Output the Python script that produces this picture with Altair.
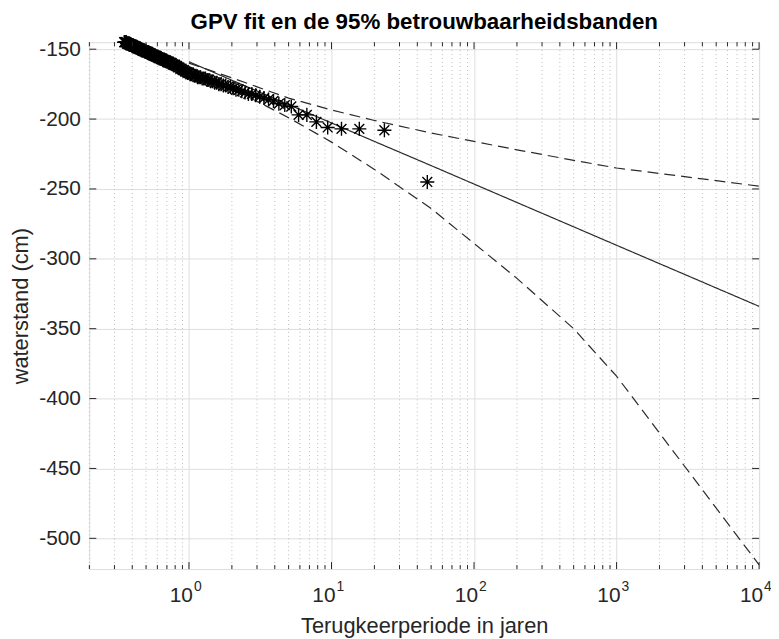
import altair as alt
import pandas as pd

title_text = "GPV fit en de 95% betrouwbaarheidsbanden"
x_title = "Terugkeerperiode in jaren"
y_title = "waterstand (cm)"

# observed points: return period (years) and water level (cm)
T_obs = [47, 23.5, 15.67, 11.75, 9.4, 7.833, 6.714, 5.875, 5.222, 4.7,
         4.273, 3.917, 3.615, 3.357, 3.133, 2.938, 2.765, 2.611, 2.474, 2.35,
         2.238, 2.136, 2.043, 1.958, 1.88, 1.808, 1.741, 1.679, 1.621, 1.567,
         1.516, 1.469, 1.424, 1.382, 1.343, 1.306, 1.270, 1.237, 1.205, 1.175,
         1.146, 1.119, 1.093, 1.068, 1.044, 1.022, 1.0, 0.979, 0.959, 0.94,
         0.922, 0.904, 0.887, 0.870, 0.855, 0.839, 0.825, 0.810, 0.797, 0.783,
         0.770, 0.758, 0.746, 0.734, 0.723, 0.712, 0.701, 0.691, 0.681, 0.671,
         0.662, 0.653, 0.644, 0.635, 0.627, 0.618, 0.610, 0.603, 0.595, 0.5875,
         0.580, 0.573, 0.566, 0.560, 0.553, 0.547, 0.540, 0.534, 0.528, 0.522,
         0.516, 0.511, 0.505, 0.5, 0.495, 0.490, 0.485, 0.480, 0.475, 0.47,
         0.465, 0.461, 0.456, 0.452, 0.448, 0.443, 0.439, 0.435, 0.431, 0.427,
         0.423, 0.420, 0.416, 0.412, 0.409, 0.405, 0.402, 0.398, 0.395, 0.392,
         0.388, 0.385, 0.382, 0.379, 0.376, 0.373, 0.370, 0.367, 0.364, 0.362,
         0.359, 0.356, 0.353, 0.351]
H_obs = [-245, -208, -207, -207, -206, -202, -197, -197, -191, -190,
         -189, -187, -186, -185, -184, -183, -182, -182, -181, -180,
         -179, -179, -178, -177, -177, -176, -176, -175, -175, -174,
         -174, -173, -173, -172, -172, -171, -171, -171, -170, -170,
         -170, -169, -169, -168, -168, -168, -167, -167, -166, -166,
         -165, -165, -164, -164, -163, -163, -162, -162, -161, -161,
         -161, -160, -160, -160, -159, -159, -159, -158, -158, -158,
         -158, -157, -157, -157, -156, -156, -156, -156, -155, -155,
         -155, -155, -154, -154, -154, -154, -153, -153, -153, -153,
         -152, -152, -152, -152, -152, -151, -151, -151, -151, -151,
         -150, -150, -150, -150, -150, -149, -149, -149, -149, -149,
         -148, -148, -148, -148, -148, -148, -147, -147, -147, -147,
         -147, -147, -146, -146, -146, -146, -146, -146, -145, -145,
         -145, -145, -145, -145]

# fitted return levels and 95% confidence band
T_fit = [1, 2, 5, 10, 20, 50, 100, 200, 500, 1000, 10000]
H_fit = [-159, -172.2, -189.6, -202.8, -216, -233.3, -246.5, -259.7, -277.1, -290.3, -334]
H_upper = [-160, -170.5, -185, -193.5, -201, -210, -216, -222, -229.5, -235, -248]
H_lower = [-163, -178, -199, -216.5, -236, -264, -289, -314, -350, -384, -519]

x_major = [1, 10, 100, 1000, 10000]
x_exponents = ["0", "1", "2", "3", "4"]
x_minor = [0.2, 0.3, 0.4, 0.5, 0.6, 0.7, 0.8, 0.9,
           2, 3, 4, 5, 6, 7, 8, 9,
           20, 30, 40, 50, 60, 70, 80, 90,
           200, 300, 400, 500, 600, 700, 800, 900,
           2000, 3000, 4000, 5000, 6000, 7000, 8000, 9000]
y_ticks = [-500, -450, -400, -350, -300, -250, -200, -150]

W, H = 675, 531
FONT = "Liberation Sans"
AX = "#262626"

xs = alt.Scale(type="log", domain=[0.2, 10000], nice=False)
ys = alt.Scale(domain=[-522, -145], nice=False, zero=False)

obs = pd.DataFrame({"T": T_obs, "H": H_obs})
fit_rows = []
for t, a, b, c in zip(T_fit, H_fit, H_upper, H_lower):
    fit_rows.append({"T": t, "H": a, "s": "fit"})
    fit_rows.append({"T": t, "H": b, "s": "upper"})
    fit_rows.append({"T": t, "H": c, "s": "lower"})
fit = pd.DataFrame(fit_rows)

minor_df = pd.DataFrame({"T": x_minor})
major_df = pd.DataFrame({"T": x_major, "e": x_exponents})
xt_df = pd.DataFrame({"T": x_minor})
yt_df = pd.DataFrame({"H": y_ticks})
title_df = pd.DataFrame({"t": [title_text]})

x_axis = alt.Axis(values=x_major, labels=False, grid=True,
                  gridColor="#dedede", gridWidth=1, ticks=False, domain=False,
                  title=x_title, titleFont=FONT, titleFontSize=22,
                  titleFontWeight="normal", titleColor=AX, titlePadding=47)
y_axis = alt.Axis(values=y_ticks, labelExpr="'' + datum.value", grid=True,
                  gridColor="#dedede", gridWidth=1,
                  ticks=False, domain=False, labelFont=FONT, labelFontSize=21,
                  labelColor=AX, labelPadding=9, title=y_title, titleFont=FONT,
                  titleFontSize=22, titleFontWeight="normal", titleColor=AX,
                  titlePadding=6)


def X(f="T"):
    return alt.X(f + ":Q", scale=xs, axis=x_axis)


def Y(f="H"):
    return alt.Y(f + ":Q", scale=ys, axis=y_axis)


minor_grid = alt.Chart(minor_df).mark_rule(color="#bdbdbd", strokeWidth=1,
                                           strokeDash=[1, 3]).encode(x=X())

lines = alt.Chart(fit).mark_line(color="#2a2a2a", strokeWidth=1.2).encode(
    x=X(), y=Y(), detail="s:N",
    strokeDash=alt.condition(alt.datum.s == "fit", alt.value([1, 0]), alt.value([11, 6])),
)

star = "M0,-1L0,1M-1,0L1,0M-0.7,-0.7L0.7,0.7M-0.7,0.7L0.7,-0.7"
points = alt.Chart(obs).mark_point(shape=star, size=200, color="black",
                                   strokeWidth=1.4, filled=False, opacity=1).encode(x=X(), y=Y())

# tick labels 10^k with a real superscript
lab_base = alt.Chart(major_df).mark_text(font=FONT, fontSize=21, color=AX,
                                         align="right", baseline="alphabetic", dx=4,
                                         text="10").encode(
    x=X(), y=alt.value(H + 33))
lab_exp = alt.Chart(major_df).mark_text(font=FONT, fontSize=14, color=AX,
                                        align="left", baseline="alphabetic", dx=5).encode(
    x=X(), y=alt.value(H + 22), text="e:N")

# chart title
title_mark = alt.Chart(title_df).mark_text(font=FONT, fontSize=22.5, fontWeight="bold",
                                           color="black", align="center",
                                           baseline="alphabetic").encode(
    x=alt.value(W / 2), y=alt.value(-13), text="t:N")

xt_bottom = alt.Chart(xt_df).mark_rule(color=AX, strokeWidth=1).encode(
    x=X(), y=alt.value(H), y2=alt.value(H - 4))
xt_bottom_major = alt.Chart(major_df).mark_rule(color=AX, strokeWidth=1).encode(
    x=X(), y=alt.value(H), y2=alt.value(H - 7))
xt_top = alt.Chart(xt_df).mark_rule(color=AX, strokeWidth=1).encode(
    x=X(), y=alt.value(0), y2=alt.value(4))
xt_top_major = alt.Chart(major_df).mark_rule(color=AX, strokeWidth=1).encode(
    x=X(), y=alt.value(0), y2=alt.value(7))
yt_left = alt.Chart(yt_df).mark_rule(color=AX, strokeWidth=1).encode(
    y=Y(), x=alt.value(0), x2=alt.value(7))
yt_right = alt.Chart(yt_df).mark_rule(color=AX, strokeWidth=1).encode(
    y=Y(), x=alt.value(W), x2=alt.value(W - 7))

chart = alt.layer(
    minor_grid, lines, points, lab_base, lab_exp, title_mark,
    xt_bottom, xt_bottom_major, xt_top, xt_top_major, yt_left, yt_right
).properties(
    width=W, height=H,
    autosize=alt.AutoSizeParams(type="none"),
    padding={"left": 82, "top": 32, "right": 12, "bottom": 67},
).configure_view(stroke=AX, strokeWidth=1).configure(background="white")

chart.save("out.html", embed_options={"renderer": "svg", "actions": False})
